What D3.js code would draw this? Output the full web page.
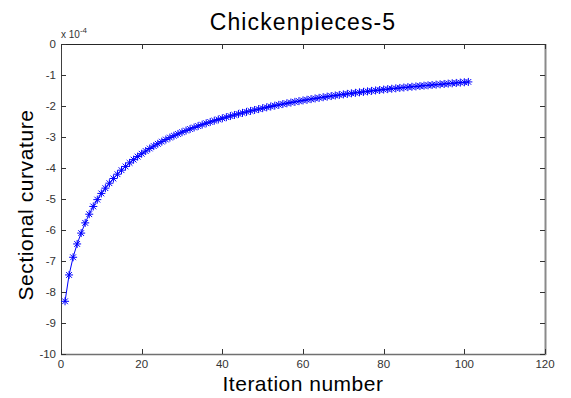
<!DOCTYPE html>
<html>
<head>
<meta charset="utf-8">
<script src="https://cdn.jsdelivr.net/npm/d3@7"></script>
<style>
  body { margin: 0; background: #fff; }
  svg { display: block; font-family: "Liberation Sans", Arial, sans-serif; }
</style>
</head>
<body>
<script>
// iteration numbers 1..101 and curvature values (units of 1e-4)
var iterations = [];
for (var k = 1; k <= 101; k++) iterations.push(k);

var curvature = [
  -8.30, -7.45, -6.88, -6.45, -6.10, -5.77, -5.49, -5.24, -5.02, -4.82,
  -4.65, -4.49, -4.34, -4.20, -4.07, -3.95, -3.835, -3.73, -3.632, -3.54,
  -3.453, -3.371, -3.293, -3.219, -3.149, -3.082, -3.019, -2.959, -2.901, -2.846,
  -2.793, -2.742, -2.693, -2.646, -2.601, -2.557, -2.515, -2.474, -2.435, -2.397,
  -2.36, -2.324, -2.289, -2.255, -2.222, -2.19, -2.159, -2.129, -2.10, -2.071,
  -2.043, -2.016, -1.989, -1.963, -1.938, -1.913, -1.889, -1.866, -1.843, -1.821,
  -1.799, -1.778, -1.757, -1.737, -1.717, -1.698, -1.679, -1.661, -1.643, -1.625,
  -1.608, -1.591, -1.575, -1.559, -1.543, -1.528, -1.513, -1.498, -1.484, -1.47,
  -1.456, -1.443, -1.43, -1.417, -1.404, -1.392, -1.38, -1.368, -1.356, -1.344,
  -1.333, -1.322, -1.311, -1.30, -1.289, -1.278, -1.267, -1.256, -1.245, -1.234,
  -1.223
];

var xTicks = [0, 20, 40, 60, 80, 100, 120];
var yTicks = [0, -1, -2, -3, -4, -5, -6, -7, -8, -9, -10];

var titleText = "Chickenpieces-5";
var xLabel = "Iteration number";
var yLabel = "Sectional curvature";

var width = 571, height = 398;
var pLeft = 61, pRight = 545, pTop = 44, pBottom = 354;

var svg = d3.select("body").append("svg")
    .attr("width", width)
    .attr("height", height);

var x = d3.scaleLinear().domain([0, 120]).range([pLeft, pRight]);
var y = d3.scaleLinear().domain([-10, 0]).range([pBottom, pTop]);

// box
svg.append("line").attr("x1", pLeft).attr("x2", pRight).attr("y1", pTop + 0.5).attr("y2", pTop + 0.5)
    .style("stroke", "#262626");
svg.append("line").attr("x1", pLeft + 0.5).attr("x2", pLeft + 0.5).attr("y1", pTop).attr("y2", pBottom)
    .style("stroke", "#404040");
svg.append("line").attr("x1", pLeft).attr("x2", pRight + 1).attr("y1", pBottom + 0.5).attr("y2", pBottom + 0.5)
    .style("stroke", "#707070").style("stroke-width", 1.5);
svg.append("line").attr("x1", pRight + 0.5).attr("x2", pRight + 0.5).attr("y1", pTop).attr("y2", pBottom + 1)
    .style("stroke", "#8a8a8a").style("stroke-width", 2);

// ticks, inward, on all four sides
var tickLen = 5;
svg.selectAll(".xt").data(xTicks).enter().append("line")
    .attr("x1", function (d) { return Math.round(x(d)) + 0.5; })
    .attr("x2", function (d) { return Math.round(x(d)) + 0.5; })
    .attr("y1", pBottom).attr("y2", pBottom - tickLen)
    .style("stroke", "#333");
svg.selectAll(".xt2").data(xTicks).enter().append("line")
    .attr("x1", function (d) { return Math.round(x(d)) + 0.5; })
    .attr("x2", function (d) { return Math.round(x(d)) + 0.5; })
    .attr("y1", pTop).attr("y2", pTop + tickLen)
    .style("stroke", "#333");
svg.selectAll(".yt").data(yTicks).enter().append("line")
    .attr("y1", function (d) { return Math.round(y(d)) + 0.5; })
    .attr("y2", function (d) { return Math.round(y(d)) + 0.5; })
    .attr("x1", pLeft).attr("x2", pLeft + tickLen)
    .style("stroke", "#333");
svg.selectAll(".yt2").data(yTicks).enter().append("line")
    .attr("y1", function (d) { return Math.round(y(d)) + 0.5; })
    .attr("y2", function (d) { return Math.round(y(d)) + 0.5; })
    .attr("x1", pRight).attr("x2", pRight - tickLen)
    .style("stroke", "#333");

// tick labels
svg.selectAll(".xl").data(xTicks).enter().append("text")
    .attr("x", function (d) { return x(d); })
    .attr("y", pBottom + 14)
    .attr("text-anchor", "middle")
    .style("font-size", "11.5px")
    .style("fill", "#333")
    .text(function (d) { return d; });
svg.selectAll(".yl").data(yTicks).enter().append("text")
    .attr("x", pLeft - 5)
    .attr("y", function (d) { return y(d) + 4; })
    .attr("text-anchor", "end")
    .style("font-size", "11.5px")
    .style("fill", "#333")
    .text(function (d) { return d; });

// exponent
var expo = svg.append("text").attr("x", pLeft).attr("y", pTop - 6)
    .style("font-size", "10px").style("fill", "#333");
expo.append("tspan").text("x 10");
expo.append("tspan").attr("dy", -5).style("font-size", "8px").text("-4");

// line + asterisk markers
var line = d3.line()
    .x(function (d, i) { return x(iterations[i]); })
    .y(function (d) { return y(d); });

svg.append("path")
    .datum(curvature)
    .attr("d", line)
    .style("fill", "none")
    .style("stroke", "#0000ff")
    .style("stroke-width", 1);

var r = 4;
function asterisk() {
    var dd = r * 0.72;
    return "M" + (-r) + ",0L" + r + ",0M0," + (-r) + "L0," + r +
        "M" + (-dd) + "," + (-dd) + "L" + dd + "," + dd +
        "M" + (-dd) + "," + dd + "L" + dd + "," + (-dd);
}
svg.selectAll(".mk").data(curvature).enter().append("path")
    .attr("transform", function (d, i) { return "translate(" + x(iterations[i]) + "," + y(d) + ")"; })
    .attr("d", asterisk())
    .style("fill", "none")
    .style("stroke", "#0000ff")
    .style("stroke-width", 1);

// titles
svg.append("text")
    .attr("x", (pLeft + pRight) / 2)
    .attr("y", 30)
    .attr("text-anchor", "middle")
    .style("font-size", "23px")
    .style("letter-spacing", "1.1px")
    .style("fill", "#000")
    .text(titleText);

svg.append("text")
    .attr("x", (pLeft + pRight) / 2)
    .attr("y", 391)
    .attr("text-anchor", "middle")
    .style("font-size", "21px")
    .style("letter-spacing", "0.5px")
    .style("fill", "#000")
    .text(xLabel);

svg.append("text")
    .attr("transform", "translate(33," + ((pTop + pBottom) / 2 + 6) + ") rotate(-90)")
    .attr("text-anchor", "middle")
    .style("font-size", "21px")
    .style("letter-spacing", "0.6px")
    .style("fill", "#000")
    .text(yLabel);
</script>
</body>
</html>
